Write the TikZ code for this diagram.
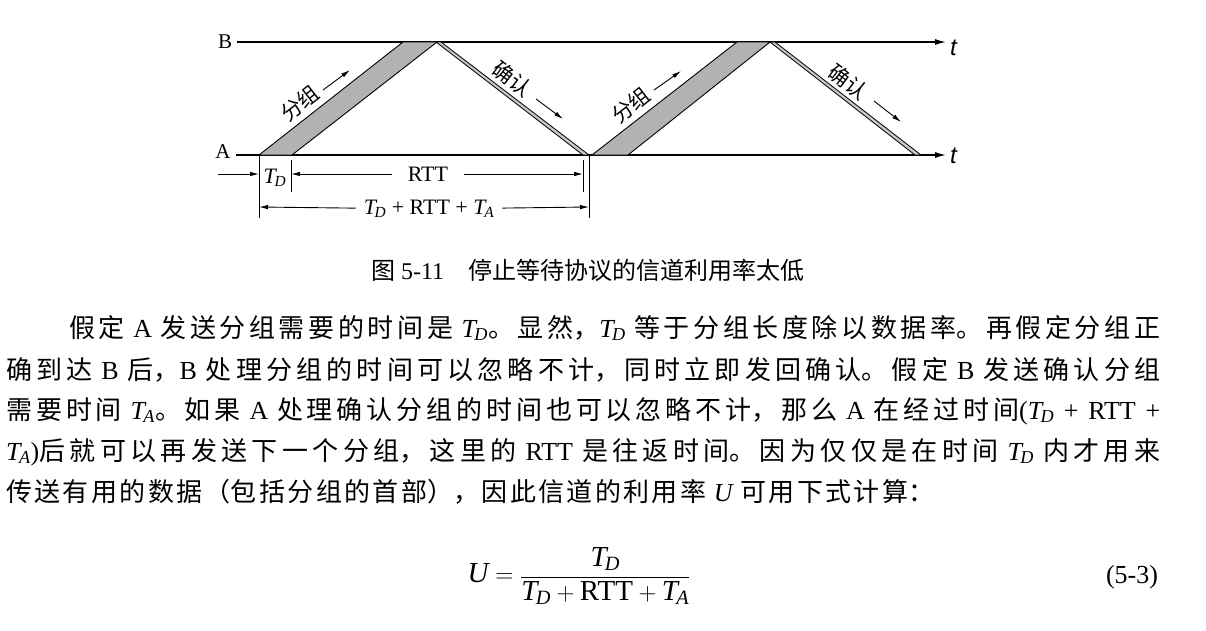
\documentclass[tikz,border=0pt]{standalone}
\usepackage{fontspec}
\setmainfont{Noto Sans CJK SC}
\newfontfamily\latfont{Liberation Serif}
\newfontfamily\tfont{Liberation Sans}
\usetikzlibrary{arrows.meta,positioning}
\XeTeXlinebreaklocale "zh"
\XeTeXlinebreakskip=0pt plus 4pt
\setlength\parindent{0pt}
\newcommand\lat[1]{{\latfont #1}}
\newcommand\Tsub[1]{{\latfont\itshape T\kern-0.06em\textsubscript{#1}}}
\newcommand\jend{\parfillskip=0pt\relax\par}
\newcommand\bodyfont{\fontsize{26}{30}\selectfont}

\begin{document}
\begin{tikzpicture}[x=1pt,y=-1pt,
  axis/.style={line width=1.3pt,-{Latex[length=11pt,width=6pt]}},
  pkt/.style={draw,line width=0.9pt,fill=black!30},
  ack/.style={draw,line width=0.8pt,fill=black!22},
  tag/.style={inner sep=0pt,font=\fontsize{21}{21}\selectfont},
  lab/.style={inner sep=0pt,font=\fontsize{22}{22}\selectfont\latfont},
  dim/.style={line width=0.9pt,-{Latex[length=9pt,width=4.5pt]}},
  tick/.style={line width=0.9pt},
  bodyline/.style={anchor=west,inner sep=0pt,align=justify,text width=#1,font=\bodyfont}]
  \useasboundingbox (0,0) rectangle (1206,630);
  % Time axes
  \node[lab,font=\fontsize{21}{21}\selectfont\latfont] (B) at (225,42) {B};
  \node[lab,font=\fontsize{21}{21}\selectfont\latfont] (A) at (223,152) {A};
  \coordinate (Bend) at (946,42);
  \coordinate (Aend) at (946,155);
  \draw[axis] (B.east) ++(5,0) -- (Bend);
  \draw[axis] (A.east |- Aend) ++(5,0) -- (Aend);
  \node[anchor=west,inner sep=0pt,font=\fontsize{24}{24}\selectfont\tfont\itshape] (tB) at (950,48) {t};
  \node[anchor=west,inner sep=0pt,font=\fontsize{24}{24}\selectfont\tfont\itshape] (tA) at (950,156) {t};
  % Frames and acks
  \coordinate (s1) at (259,155);
  \coordinate (e1) at (292,155);
  \coordinate (s2) at (592,155);
  \draw[pkt] (s1) -- (e1) -- (437,42) -- (403,42) -- cycle;
  \draw[ack] (436,42) -- (441,42) -- (589,155) -- (583,155) -- cycle;
  \draw[pkt] (s2) -- (628,155) -- (770,42) -- (737,42) -- cycle;
  \draw[ack] (770,42) -- (775,42) -- (921,155) -- (915,155) -- cycle;
  % Labels along the lines
  \node[tag,rotate=38] (g1) at (300,103) {分组};
  \draw[dim] (323,90) -- (350,70);
  \node[tag,rotate=-37] (c1) at (512,79) {确认};
  \draw[dim] (536,99) -- (563,119);
  \node[tag,rotate=38] (g2) at (631,105) {分组};
  \draw[dim] (654,90) -- (681,71);
  \node[tag,rotate=-37] (c2) at (848,82) {确认};
  \draw[dim] (874,101) -- (901,122);
  % Time spans
  \draw[tick] (s1) -- ++(0,63);
  \draw[tick] (589,155) -- ++(0,63);
  \draw[tick] (291,160) -- (291,192);
  \draw[tick] (583,160) -- (583,192);
  \coordinate (inL) at (218,174);
  \coordinate (s1m) at (259,174);
  \coordinate (tdR) at (291,174);
  \coordinate (rttR) at (583,174);
  \coordinate (s1b) at (259,207);
  \coordinate (r1b) at (589,207);
  \draw[dim] (inL) -- (s1m);
  \node[lab] (td) at (275,178) {\Tsub{D}};
  \node[lab,inner xsep=16pt] (rtt) at (428,174) {RTT};
  \draw[dim] (rtt) -- (tdR);
  \draw[dim] (rtt) -- (rttR);
  \node[lab,inner xsep=8pt] (tot) at (429,209) {\Tsub{D} + RTT + \Tsub{A}};
  \draw[dim] (tot) -- (s1b);
  \draw[dim] (tot) -- (r1b);
  % Caption
  \node[inner sep=0pt,font=\fontsize{24}{24}\selectfont] (cap) at (588,270) {图 \lat{5-11}\quad 停止等待协议的信道利用率太低};
  % Body text
  \node[bodyline=1091pt] (l1) at (69,328) {假定 \lat{A} 发送分组需要的时间是 \Tsub{D}。显然，\Tsub{D} 等于分组长度除以数据率。再假定分组正\jend};
  \node[bodyline=1154pt] (l2) at (6,370) {确到达 \lat{B} 后，\lat{B} 处理分组的时间可以忽略不计，同时立即发回确认。假定 \lat{B} 发送确认分组\jend};
  \node[bodyline=1154pt] (l3) at (6,411) {需要时间 \Tsub{A}。如果 \lat{A} 处理确认分组的时间也可以忽略不计，那么 \lat{A} 在经过时间\lat{(}\Tsub{D}\lat{ + RTT +}\jend};
  \node[bodyline=1154pt] (l4) at (6,452) {\Tsub{A}\lat{)}后就可以再发送下一个分组，这里的 \lat{RTT} 是往返时间。因为仅仅是在时间 \Tsub{D} 内才用来\jend};
  \node[bodyline=928pt] (l5) at (6,492) {传送有用的数据（包括分组的首部），因此信道的利用率 \lat{\itshape U} 可用下式计算：\jend};
  % Formula
  \node[inner sep=0pt,font=\fontsize{29}{33}\selectfont] (eq) at (579,576) {$\mbox{\lat{\itshape U}} = \displaystyle\frac{\mbox{\Tsub{D}}}{\mbox{\Tsub{D}}+\mbox{\lat{RTT}}+\mbox{\Tsub{A}}}$};
  \node[inner sep=0pt,font=\fontsize{26}{26}\selectfont] (eqno) at (1132,577) {\lat{(5-3)}};
\end{tikzpicture}
\end{document}
